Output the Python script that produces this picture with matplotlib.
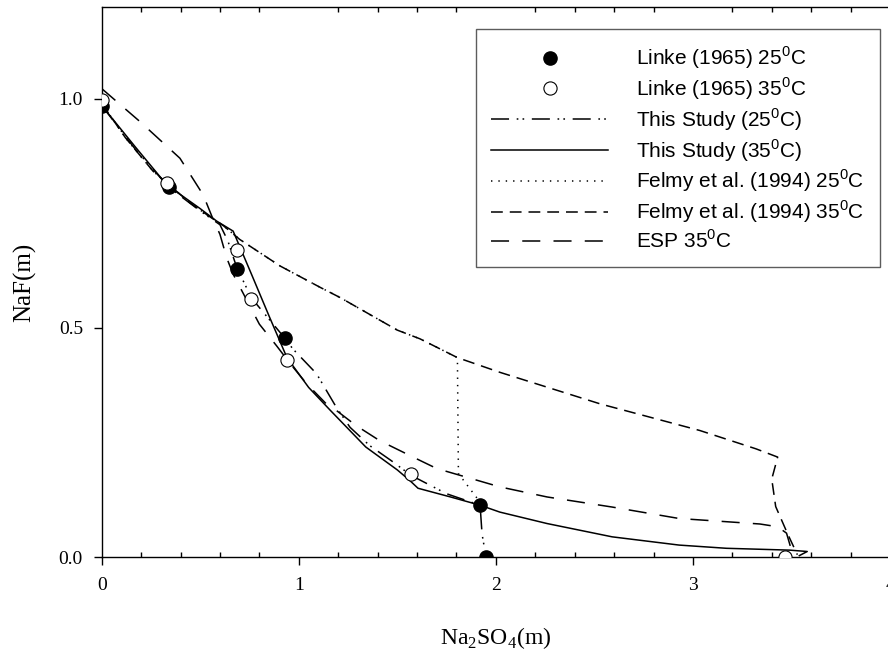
import matplotlib
matplotlib.use("Agg")
import matplotlib.pyplot as plt
from matplotlib.ticker import MultipleLocator

plt.rcParams['font.family'] = ['Liberation Serif']
plt.rcParams['mathtext.fontset'] = 'custom'
plt.rcParams['mathtext.rm'] = 'Liberation Serif'
plt.rcParams['mathtext.sf'] = 'Liberation Sans'
plt.rcParams['lines.scale_dashes'] = False

# Linke (1965) solubility data, Na2SO4 (m) vs NaF (m)
linke25_x = [0.0, 0.34, 0.685, 0.93, 1.92, 1.95]
linke25_y = [0.985, 0.807, 0.628, 0.477, 0.113, 0.0]
linke35_x = [0.0, 0.33, 0.685, 0.76, 0.94, 1.57, 3.465]
linke35_y = [0.996, 0.816, 0.670, 0.562, 0.430, 0.182, 0.0]

# model curves
study25_x = [0.0, 0.17, 0.34, 0.50, 0.60, 0.64, 0.685, 0.76, 0.93, 0.97, 1.09,
             1.19, 1.26, 1.36, 1.47, 1.57, 1.75, 1.92, 1.93, 1.95]
study25_y = [0.985, 0.89, 0.807, 0.755, 0.725, 0.69, 0.632, 0.565, 0.477, 0.454, 0.40,
             0.327, 0.283, 0.243, 0.21, 0.178, 0.138, 0.113, 0.05, 0.0]

study35_x = [0.0, 0.17, 0.33, 0.50, 0.583, 0.667, 0.76, 0.85, 0.94, 1.05, 1.16,
             1.34, 1.50, 1.563, 1.605, 1.77, 1.92, 2.02, 2.26, 2.59, 2.93, 3.17,
             3.49, 3.58, 3.54]
study35_y = [0.985, 0.895, 0.812, 0.76, 0.733, 0.711, 0.617, 0.525, 0.435, 0.37, 0.32,
             0.24, 0.19, 0.167, 0.15, 0.131, 0.113, 0.098, 0.073, 0.044, 0.026, 0.019,
             0.015, 0.012, 0.003]

felmy25_x = [0.0, 0.12, 0.26, 0.45, 0.55, 0.62, 0.70, 0.905, 1.11, 1.21, 1.50,
             1.615, 1.805, 1.81, 1.90, 1.93]
felmy25_y = [0.99, 0.915, 0.842, 0.772, 0.742, 0.722, 0.693, 0.635, 0.588, 0.566, 0.495,
             0.476, 0.435, 0.182, 0.131, 0.113]

felmy35_x = [0.0, 0.12, 0.26, 0.45, 0.55, 0.62, 0.70, 0.905, 1.11, 1.21, 1.50,
             1.615, 1.805, 2.02, 2.53, 3.035, 3.32, 3.43, 3.40, 3.42, 3.48, 3.53]
felmy35_y = [0.99, 0.915, 0.842, 0.772, 0.742, 0.722, 0.693, 0.635, 0.588, 0.566, 0.495,
             0.476, 0.435, 0.403, 0.334, 0.276, 0.236, 0.218, 0.17, 0.11, 0.051, 0.005]

esp35_x = [0.0, 0.194, 0.397, 0.515, 0.566, 0.60, 0.634, 0.667, 0.70, 0.80, 0.887,
           0.96, 1.04, 1.14, 1.19, 1.29, 1.41, 1.58, 1.70, 1.82, 2.02, 2.26, 2.59,
           2.93, 3.17, 3.34, 3.43, 3.475, 3.50]
esp35_y = [1.022, 0.95, 0.87, 0.79, 0.736, 0.704, 0.653, 0.617, 0.59, 0.508, 0.461,
           0.42, 0.378, 0.334, 0.32, 0.287, 0.254, 0.218, 0.193, 0.178, 0.153, 0.131, 0.109,
           0.084, 0.077, 0.072, 0.066, 0.052, 0.015]

xticks = [0, 1, 2, 3, 4]
xticklabels = ['0', '1', '2', '3', '4']
yticks = [0.0, 0.5, 1.0]
yticklabels = ['0.0', '0.5', '1.0']

deg = '$^{\\mathsf{0}}$C'

fig = plt.figure(figsize=(8.88, 6.55), dpi=100)
ax = fig.add_axes([101.7 / 888, 1 - 557 / 655, (890 - 101.7) / 888, 550 / 655])

lw = 1.1
ax.plot(linke25_x, linke25_y, 'o', color='black', ms=9.5, zorder=5,
        label='Linke (1965) 25' + deg)
ax.plot(linke35_x, linke35_y, 'o', mfc='white', mec='black', mew=0.8, ms=9.5, zorder=5,
        label='Linke (1965) 35' + deg)
ax.plot(study25_x, study25_y, color='black', lw=lw,
        linestyle=(0, (13, 5.5, 1.2, 3, 1.2, 5.5)), label='This Study (25' + deg + ')')
ax.plot(study35_x, study35_y, color='black', lw=lw, linestyle='-',
        label='This Study (35' + deg + ')')
ax.plot(felmy25_x, felmy25_y, color='black', lw=lw,
        linestyle=(0, (1, 4.3)), label='Felmy et al. (1994) 25' + deg)
ax.plot(felmy35_x, felmy35_y, color='black', lw=lw,
        linestyle=(0, (8.5, 5)), label='Felmy et al. (1994) 35' + deg)
ax.plot(esp35_x, esp35_y, color='black', lw=lw,
        linestyle=(0, (13, 9.5)), label='ESP 35' + deg)

ax.set_xlim(0, 4)
ax.set_ylim(0, 1.2)
ax.set_xticks(xticks)
ax.set_xticklabels(xticklabels)
ax.set_yticks(yticks)
ax.set_yticklabels(yticklabels)
ax.xaxis.set_minor_locator(MultipleLocator(0.2))

for s in ax.spines.values():
    s.set_linewidth(1.0)
ax.tick_params(axis='both', which='major', direction='out', length=5.5, width=1.0,
               labelsize=14, pad=8)
ax.tick_params(axis='x', which='major', pad=9)
ax.tick_params(axis='x', which='minor', direction='in', length=3.5, width=1.0,
               top=True, bottom=True)

ax.set_xlabel('Na$_2$SO$_4$(m)', fontsize=17, labelpad=22)
ax.set_ylabel('NaF(m)', fontsize=18, labelpad=16)

leg = ax.legend(loc='upper right', bbox_to_anchor=(880 / 888, 1 - 29 / 655),
                bbox_transform=fig.transFigure, borderaxespad=0,
                prop={'family': 'Liberation Sans', 'size': 15},
                handlelength=5.6, handletextpad=1.35, borderpad=0.75,
                labelspacing=0.2, fancybox=False, frameon=True, numpoints=1)
leg.get_frame().set_edgecolor('#333333')
leg.get_frame().set_linewidth(1.0)

fig.savefig('out.png', dpi=100)
